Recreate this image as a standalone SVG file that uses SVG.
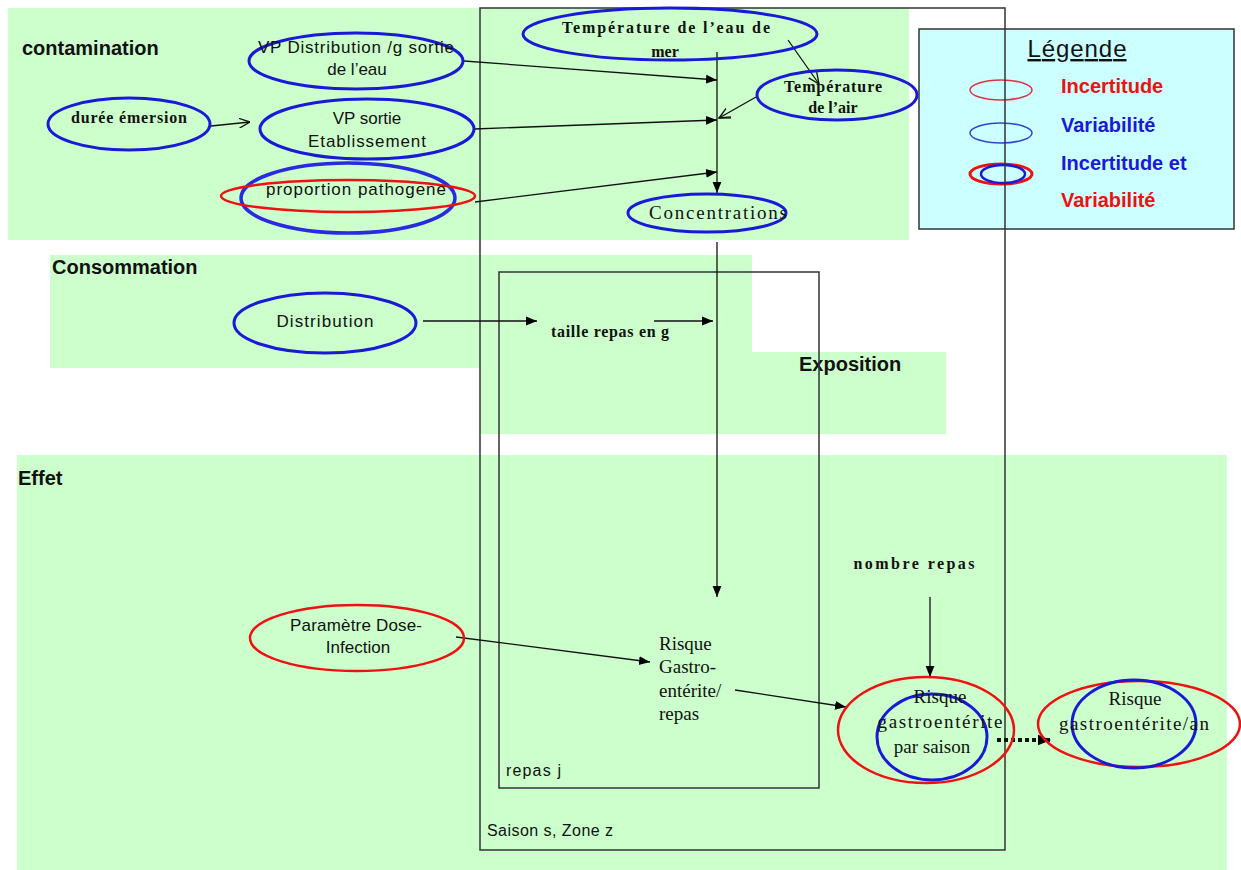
<svg xmlns="http://www.w3.org/2000/svg" width="1241" height="870" viewBox="0 0 1241 870">
<defs>
<style>
.zone{fill:#ccffcc;stroke:none}
.frame{fill:none;stroke:#333;stroke-width:1.5}
.lbl{font-family:"Liberation Sans",Arial,sans-serif;font-weight:bold;font-size:20px;fill:#111}
.sans{font-family:"Liberation Sans",Arial,sans-serif;font-size:17px;fill:#111;text-anchor:middle}
.serb{font-family:"Liberation Serif","Times New Roman",serif;font-weight:bold;font-size:16px;fill:#111;text-anchor:middle}
.ser{font-family:"Liberation Serif","Times New Roman",serif;font-size:19px;fill:#111}
.blue{fill:none;stroke:#1a1ad6;stroke-width:3}
.red{fill:none;stroke:#ee1111;stroke-width:2.5}
.con{fill:none;stroke:#111;stroke-width:1.3}
.leg{font-family:"Liberation Sans",Arial,sans-serif;font-weight:bold;font-size:20px}
</style>
<marker id="fa" viewBox="0 0 10 10" refX="10" refY="5" markerWidth="11" markerHeight="11" markerUnits="userSpaceOnUse" orient="auto"><path d="M0,1 L10,5 L0,9 z" fill="#000"/></marker>
<marker id="oa" viewBox="0 0 10 10" refX="10" refY="5" markerWidth="11" markerHeight="11" markerUnits="userSpaceOnUse" orient="auto"><path d="M0,0.5 L10,5 L0,9.5" fill="none" stroke="#111" stroke-width="1.2"/></marker>
<marker id="fb" viewBox="0 0 10 10" refX="10" refY="5" markerWidth="13" markerHeight="13" markerUnits="userSpaceOnUse" orient="auto"><path d="M0,1 L10,5 L0,9 z" fill="#000"/></marker>
</defs>
<rect width="1241" height="870" fill="#fff"/>

<g id="zones">
<rect class="zone" x="8" y="8" width="901" height="232"/>
<rect class="zone" x="50" y="255" width="702" height="113"/>
<rect class="zone" x="481" y="255" width="271" height="179"/>
<rect class="zone" x="481" y="352" width="465" height="82"/>
<rect class="zone" x="17" y="455" width="1210" height="415"/>
<text class="lbl" x="22" y="55">contamination</text>
<text class="lbl" x="52" y="274">Consommation</text>
<text class="lbl" x="799" y="371">Exposition</text>
<text class="lbl" x="18" y="485">Effet</text>
</g>

<g id="legend">
<rect x="919" y="29" width="315" height="200" fill="#ccffff" stroke="#333" stroke-width="1.5"/>
<text x="1077" y="57" font-family="'Liberation Sans',Arial,sans-serif" font-size="24" fill="#111" text-anchor="middle" textLength="99" text-decoration="underline">Légende</text>
<ellipse cx="1001" cy="90" rx="31" ry="10" fill="none" stroke="#dd3344" stroke-width="1.5"/>
<ellipse cx="1001" cy="133" rx="31" ry="10" fill="none" stroke="#3344cc" stroke-width="1.5"/>
<ellipse cx="1001" cy="174" rx="31" ry="10" fill="none" stroke="#ee1111" stroke-width="3"/>
<ellipse cx="1003" cy="174" rx="22" ry="9" fill="none" stroke="#1a1ad6" stroke-width="2.5"/>
<text class="leg" x="1061" y="93" fill="#ee1111">Incertitude</text>
<text class="leg" x="1061" y="132" fill="#1a1ad6">Variabilité</text>
<text class="leg" x="1061" y="170" fill="#1a1ad6">Incertitude et</text>
<text class="leg" x="1061" y="207" fill="#ee1111">Variabilité</text>
</g>

<g id="frames">
<rect class="frame" x="480" y="8" width="525" height="842"/>
<rect class="frame" x="499" y="272" width="320" height="516"/>
<text x="487" y="836" font-family="'Liberation Sans',Arial,sans-serif" font-size="16" fill="#111" textLength="126">Saison s, Zone z</text>
<text x="506" y="776" font-family="'Liberation Sans',Arial,sans-serif" font-size="16" fill="#111" textLength="55">repas j</text>
</g>

<g id="connectors">
<line class="con" x1="211" y1="126" x2="250" y2="122" marker-end="url(#oa)"/>
<line class="con" x1="464" y1="61" x2="717" y2="80" marker-end="url(#fa)"/>
<line class="con" x1="474" y1="129" x2="717" y2="120" marker-end="url(#fa)"/>
<line class="con" x1="475" y1="202" x2="717" y2="172" marker-end="url(#fa)"/>
<line class="con" x1="788" y1="40" x2="819" y2="84" marker-end="url(#oa)"/>
<line class="con" x1="756" y1="97" x2="719" y2="118" marker-end="url(#oa)"/>
<line class="con" x1="718" y1="118" x2="731" y2="118"/>
<line class="con" x1="717" y1="52" x2="717" y2="193" marker-end="url(#fa)"/>
<line class="con" x1="717" y1="242" x2="717" y2="597" marker-end="url(#fa)"/>
<line class="con" x1="423" y1="321" x2="537" y2="321" marker-end="url(#fa)"/>
<line class="con" x1="654" y1="321" x2="713" y2="321" marker-end="url(#fa)"/>
<line class="con" x1="456" y1="637" x2="650" y2="662" marker-end="url(#fa)"/>
<line class="con" x1="735" y1="690" x2="846" y2="707" marker-end="url(#fa)"/>
<line class="con" x1="930" y1="597" x2="930" y2="677" marker-end="url(#fa)"/>
<line x1="997" y1="740" x2="1051" y2="740" stroke="#111" stroke-width="4" stroke-dasharray="4 3" marker-end="url(#fb)"/>
</g>

<g id="node-duree">
<ellipse class="blue" cx="129" cy="124" rx="81" ry="26"/>
<text class="serb" x="129" y="123" font-size="15" textLength="116">durée émersion</text>
</g>
<g id="node-vpdistribution">
<ellipse class="blue" cx="356" cy="61" rx="107" ry="28"/>
<text class="sans" x="356" y="53" textLength="196">VP Distribution /g sortie</text>
<text class="sans" x="357" y="75">de l’eau</text>
</g>
<g id="node-vpsortie">
<ellipse class="blue" cx="367" cy="129" rx="107" ry="30"/>
<text class="sans" x="367" y="124">VP sortie</text>
<text class="sans" x="367" y="147" textLength="118">Etablissement</text>
</g>
<g id="node-proportion">
<ellipse cx="348" cy="198" rx="107" ry="35" fill="none" stroke="#2a2ae0" stroke-width="3.5"/>
<ellipse class="red" cx="348" cy="196" rx="127" ry="16"/>
<text class="sans" x="356" y="195" textLength="180">proportion pathogene</text>
</g>
<g id="node-temp-eau">
<ellipse class="blue" cx="670" cy="34" rx="147" ry="26"/>
<text class="serb" x="666" y="33" font-size="18" textLength="208">Température de l’eau de</text>
<text class="serb" x="665" y="57" font-size="18">mer</text>
</g>
<g id="node-temp-air">
<ellipse class="blue" cx="837" cy="95" rx="80" ry="25"/>
<text class="serb" x="833" y="92" textLength="98">Température</text>
<text class="serb" x="833" y="113">de l’air</text>
</g>
<g id="node-concentrations">
<ellipse class="blue" cx="707" cy="213" rx="79" ry="19"/>
<text class="ser" x="718" y="219" font-size="19" text-anchor="middle" textLength="138">Concentrations</text>
</g>
<g id="node-distribution">
<ellipse class="blue" cx="325" cy="323" rx="91" ry="30"/>
<text class="sans" x="325" y="327" textLength="97">Distribution</text>
</g>
<g id="node-taille">
<text class="serb" x="610" y="337" font-size="14" textLength="118">taille repas en g</text>
</g>
<g id="node-dose">
<ellipse class="red" cx="357" cy="638" rx="107" ry="33"/>
<text class="sans" x="356" y="631" textLength="132">Paramètre Dose-</text>
<text class="sans" x="358" y="653">Infection</text>
</g>
<g id="node-risque-repas">
<text class="ser" x="659" y="650">Risque</text>
<text class="ser" x="659" y="673">Gastro-</text>
<text class="ser" x="659" y="697">entérite/</text>
<text class="ser" x="659" y="720">repas</text>
</g>
<g id="node-nombre">
<text class="serb" x="914" y="569" textLength="121">nombre repas</text>
</g>
<g id="node-risque-saison">
<ellipse class="red" cx="926" cy="730" rx="88" ry="53"/>
<ellipse class="blue" cx="932" cy="737" rx="55" ry="43"/>
<text class="ser" x="940" y="703" text-anchor="middle">Risque</text>
<text class="ser" x="940" y="728" text-anchor="middle" textLength="125">gastroentérite</text>
<text class="ser" x="932" y="753" text-anchor="middle">par saison</text>
</g>
<g id="node-risque-an">
<ellipse class="red" cx="1139" cy="724" rx="101" ry="43"/>
<ellipse class="blue" cx="1134" cy="724" rx="62" ry="44"/>
<text class="ser" x="1135" y="705" text-anchor="middle">Risque</text>
<text class="ser" x="1134" y="730" text-anchor="middle" textLength="150">gastroentérite/an</text>
</g>
</svg>
